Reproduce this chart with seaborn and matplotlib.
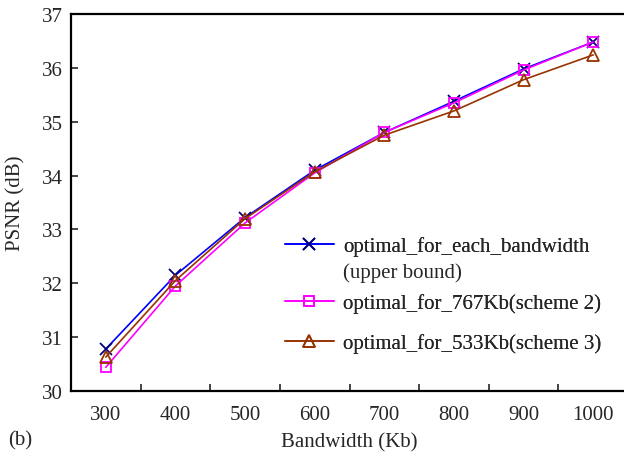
import matplotlib
matplotlib.use("Agg")
import matplotlib.pyplot as plt
import seaborn as sns
import numpy as np
import pandas as pd

categories = ["300", "400", "500", "600", "700", "800", "900", "1000"]
upper_bound = [30.78, 32.15, 33.22, 34.10, 34.80, 35.38, 35.98, 36.48]
scheme2 = [30.44, 31.95, 33.12, 34.05, 34.80, 35.35, 35.96, 36.48]
scheme3 = [30.63, 32.05, 33.20, 34.07, 34.75, 35.20, 35.78, 36.24]
labels = ["optimal_for_each_bandwidth", "optimal_for_767Kb(scheme 2)", "optimal_for_533Kb(scheme 3)"]

sns.set_style("white")
plt.rcParams['font.family'] = ['Liberation Serif', 'DejaVu Serif']
FS = 15

fig = plt.figure(figsize=(6.24, 4.6), dpi=100)
W, H = 624, 460
ax = fig.add_axes([71 / W, (H - 392) / H, (628 - 71) / W, (392 - 15) / H])

pos = np.arange(len(categories))
styles = [
    dict(color="#0000FF", marker="x", mec="#000080", mfc="none", ms=8, mew=1.3),
    dict(color="#FF00FF", marker="s", mec="#FF00FF", mfc="none", ms=7, mew=1.3),
    dict(color="#993300", marker="^", mec="#993300", mfc="none", ms=8, mew=1.3),
]
series = [upper_bound, scheme2, scheme3]
handles = []
for vals, st, lab in zip(series, styles, labels):
    df = pd.DataFrame({"x": pos, "y": vals})
    sns.lineplot(data=df, x="x", y="y", ax=ax, lw=1.2, label=lab, **st)
    handles.append(ax.lines[-1])
if ax.get_legend():
    ax.get_legend().remove()

ax.set_xlim(-0.5, len(categories) - 0.5)
ax.set_ylim(30, 37)
ax.set_xticks(pos)
ax.set_xticklabels(categories, fontsize=FS)
ax.set_xticks(pos[:-1] + 0.5, minor=True)
ax.tick_params(axis="x", which="major", length=0, pad=10)
ax.tick_params(axis="x", which="minor", direction="in", length=5, width=1.2)
ax.set_yticks(np.arange(30, 38, 1))
ax.tick_params(axis="y", direction="in", length=5, width=1.2, labelsize=FS, pad=6)
ax.tick_params(axis="y", left=True)
ax.tick_params(axis="x", bottom=True, which="both")
for s in ["left", "bottom", "top"]:
    ax.spines[s].set_color("black")
    ax.spines[s].set_linewidth(1.6)
ax.spines["right"].set_visible(False)

ax.set_xlabel("Bandwidth (Kb)", fontsize=FS, labelpad=6)
ax.set_ylabel("PSNR (dB)", fontsize=FS, labelpad=12)

# legends, placed individually
ys = [247, 304, 344]
for h, lab, y in zip(handles, labels, ys):
    leg = fig.legend([h], [lab], loc="center left", bbox_to_anchor=(285 / W, (H - y) / H),
                     frameon=False, fontsize=FS, handlelength=2.35, handletextpad=0.45,
                     borderpad=0, borderaxespad=0, numpoints=1)
    fig.add_artist(leg)
fig.text(343 / W, (H - 273) / H, "(upper bound)", fontsize=FS, va="center", ha="left")
fig.text(8 / W, (H - 441) / H, "(b)", fontsize=FS, va="center", ha="left")

fig.savefig("out.png", dpi=100)
